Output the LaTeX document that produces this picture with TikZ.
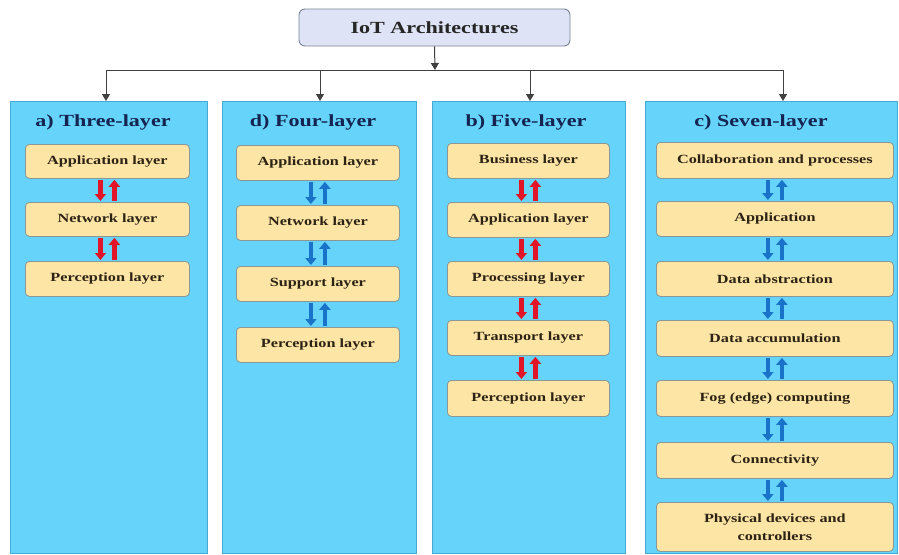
\documentclass[tikz,border=0pt]{standalone}
\usepackage{fontspec}
\setmainfont{Liberation Serif}
\newfontfamily\widefont{Liberation Serif}[FakeStretch=1.3]
\usetikzlibrary{arrows.meta,positioning}
\definecolor{panelfill}{RGB}{102,212,250}
\definecolor{paneledge}{RGB}{70,170,215}
\definecolor{layerfill}{RGB}{253,229,166}
\definecolor{layeredge}{RGB}{140,150,150}
\definecolor{topfill}{RGB}{222,228,246}
\definecolor{topedge}{RGB}{120,130,150}
\definecolor{titleblue}{RGB}{20,35,80}
\definecolor{layertext}{RGB}{45,35,20}
\definecolor{arrred}{RGB}{225,20,40}
\definecolor{arrblue}{RGB}{25,115,200}
\tikzset{
  x=1pt, y=-1pt,
  panel/.style={draw=paneledge, line width=0.8pt, fill=panelfill, anchor=north west, inner sep=0pt},
  paneltitle/.style={font=\widefont\bfseries\fontsize{17}{19}\selectfont, text=titleblue, anchor=center},
  layer/.style={draw=layeredge, line width=0.8pt, fill=layerfill, rounded corners=4pt, anchor=north west,
    inner sep=0pt, font=\widefont\bfseries\fontsize{12.5}{18}\selectfont, text=layertext, align=center},
  rootbox/.style={draw=topedge, line width=0.9pt, fill=topfill, rounded corners=6pt, inner sep=0pt,
    font=\widefont\bfseries\fontsize{17}{19}\selectfont, text=black!85},
  link/.style={draw=black!75, line width=1pt},
  linkarrow/.style={link, -{Triangle[width=8pt,length=7pt]}},
  fatred/.style={draw=arrred, line width=4.5pt, -{Triangle[width=11pt,length=7pt]}, shorten >=1pt, shorten <=1pt},
  fatblue/.style={draw=arrblue, line width=4.5pt, -{Triangle[width=11pt,length=7pt]}, shorten >=1pt, shorten <=1pt},
}
\newcommand{\layerpair}[3]{% style, upper node, lower node
  \draw[#1] ([xshift=-7pt]#2.south) -- ([xshift=-7pt]#3.north);
  \draw[#1] ([xshift=7pt]#3.north) -- ([xshift=7pt]#2.south);
}
\begin{document}
\begin{tikzpicture}
\useasboundingbox (0,0) rectangle (899,554);

% root node
\node[rootbox, minimum width=271pt, minimum height=37pt] (root) at (434.5,27.5) {IoT Architectures};

% distribution bus
\coordinate (bus) at (435,70);
\coordinate (busL) at (106,70);
\coordinate (busD) at (320,70);
\coordinate (busB) at (530,70);
\coordinate (busR) at (783,70);
\draw[linkarrow] (root.south) -- (bus);
\draw[link] (busL) -- (busR);

% panels
\node[panel, minimum width=197pt, minimum height=452pt] (pA) at (10,101) {};
\node[panel, minimum width=194pt, minimum height=452pt] (pD) at (222,101) {};
\node[panel, minimum width=193pt, minimum height=452pt] (pB) at (432,101) {};
\node[panel, minimum width=252pt, minimum height=452pt] (pC) at (645,101) {};

\draw[linkarrow] (busL) -- (busL |- pA.north);
\draw[linkarrow] (busD) -- (busD |- pD.north);
\draw[linkarrow] (busB) -- (busB |- pB.north);
\draw[linkarrow] (busR) -- (busR |- pC.north);

% panel titles
\node[paneltitle] (tA) at (103,122) {a) Three-layer};
\node[paneltitle] (tD) at (313,122) {d) Four-layer};
\node[paneltitle] (tB) at (526,122) {b) Five-layer};
\node[paneltitle] (tC) at (761,122) {c) Seven-layer};

% a) three-layer
\node[layer, minimum width=164pt, minimum height=34pt] (a1) at (25,144) {Application layer};
\node[layer, minimum width=164pt, minimum height=34pt] (a2) at (25,202) {Network layer};
\node[layer, minimum width=164pt, minimum height=35pt] (a3) at (25,261) {Perception layer};
\layerpair{fatred}{a1}{a2}
\layerpair{fatred}{a2}{a3}

% d) four-layer
\node[layer, minimum width=163pt, minimum height=35pt] (d1) at (236,145) {Application layer};
\node[layer, minimum width=163pt, minimum height=35pt] (d2) at (236,205) {Network layer};
\node[layer, minimum width=163pt, minimum height=35pt] (d3) at (236,266) {Support layer};
\node[layer, minimum width=163pt, minimum height=35pt] (d4) at (236,327) {Perception layer};
\layerpair{fatblue}{d1}{d2}
\layerpair{fatblue}{d2}{d3}
\layerpair{fatblue}{d3}{d4}

% b) five-layer
\node[layer, minimum width=162pt, minimum height=35pt] (b1) at (447,143) {Business layer};
\node[layer, minimum width=162pt, minimum height=35pt] (b2) at (447,202) {Application layer};
\node[layer, minimum width=162pt, minimum height=35pt] (b3) at (447,261) {Processing layer};
\node[layer, minimum width=162pt, minimum height=35pt] (b4) at (447,320) {Transport layer};
\node[layer, minimum width=162pt, minimum height=36pt] (b5) at (447,380) {Perception layer};
\layerpair{fatred}{b1}{b2}
\layerpair{fatred}{b2}{b3}
\layerpair{fatred}{b3}{b4}
\layerpair{fatred}{b4}{b5}

% c) seven-layer
\node[layer, minimum width=237pt, minimum height=36pt] (c1) at (656,142) {Collaboration and processes};
\node[layer, minimum width=237pt, minimum height=35pt] (c2) at (656,201) {Application};
\node[layer, minimum width=237pt, minimum height=35pt] (c3) at (656,261) {Data abstraction};
\node[layer, minimum width=237pt, minimum height=36pt] (c4) at (656,320) {Data accumulation};
\node[layer, minimum width=237pt, minimum height=36pt] (c5) at (656,380) {Fog (edge) computing};
\node[layer, minimum width=237pt, minimum height=36pt] (c6) at (656,442) {Connectivity};
\node[layer, minimum width=237pt, minimum height=49pt] (c7) at (656,502) {Physical devices and\\controllers};
\layerpair{fatblue}{c1}{c2}
\layerpair{fatblue}{c2}{c3}
\layerpair{fatblue}{c3}{c4}
\layerpair{fatblue}{c4}{c5}
\layerpair{fatblue}{c5}{c6}
\layerpair{fatblue}{c6}{c7}
\end{tikzpicture}
\end{document}
